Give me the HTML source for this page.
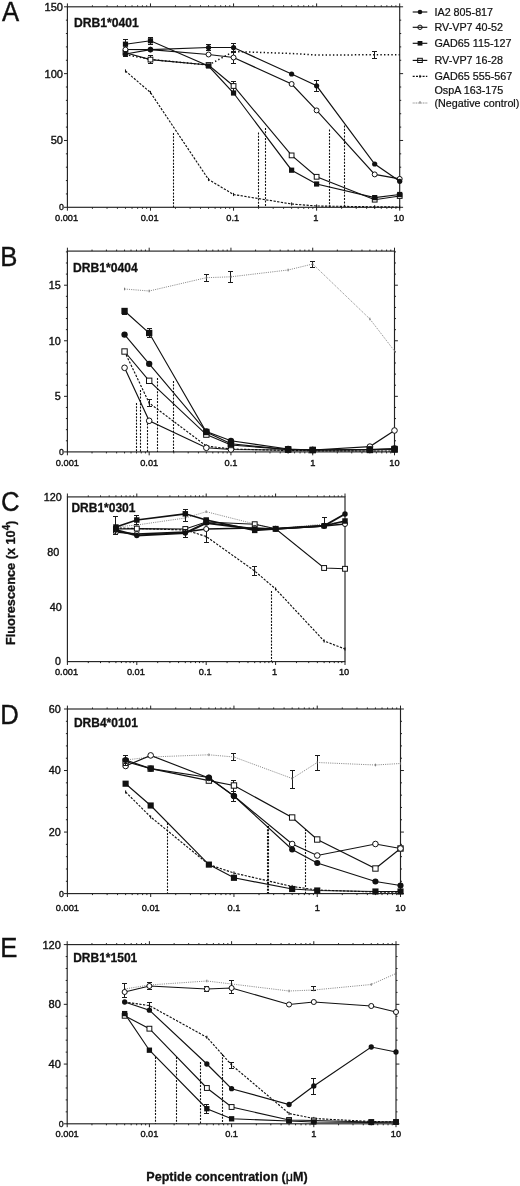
<!DOCTYPE html>
<html><head><meta charset="utf-8"><title>Figure</title>
<style>
html,body{margin:0;padding:0;background:#fff}
svg{display:block}
text{font-family:"Liberation Sans", Arial, Helvetica, sans-serif;fill:#111}
.tk{stroke:#111;stroke-width:0.38px}
.lt{font-size:27.2px;stroke:#111;stroke-width:0.4px}
.ti{font-weight:bold;stroke:#111;stroke-width:0.3px}
.lg{font-size:10.75px;stroke:#111;stroke-width:0.22px}
.ax{font-weight:bold;stroke:#111;stroke-width:0.3px}
</style></head><body>
<svg width="520" height="1186" viewBox="0 0 520 1186">
<rect width="520" height="1186" fill="#fff"/>
<rect x="67.4" y="6.8" width="332.3" height="200.5" fill="none" stroke="#222" stroke-width="1.15"/>
<path d="M67.4 207.3v3.4M67.4 6.8v-3.4M92.41 207.3v1.5M92.41 6.8v-1.5M107.04 207.3v1.5M107.04 6.8v-1.5M117.42 207.3v1.5M117.42 6.8v-1.5M125.47 207.3v1.5M125.47 6.8v-1.5M132.04 207.3v1.5M132.04 6.8v-1.5M137.61 207.3v1.5M137.61 6.8v-1.5M142.42 207.3v1.5M142.42 6.8v-1.5M146.67 207.3v1.5M146.67 6.8v-1.5M150.47 207.3v3.4M150.47 6.8v-3.4M175.48 207.3v1.5M175.48 6.8v-1.5M190.11 207.3v1.5M190.11 6.8v-1.5M200.49 207.3v1.5M200.49 6.8v-1.5M208.54 207.3v1.5M208.54 6.8v-1.5M215.12 207.3v1.5M215.12 6.8v-1.5M220.68 207.3v1.5M220.68 6.8v-1.5M225.5 207.3v1.5M225.5 6.8v-1.5M229.75 207.3v1.5M229.75 6.8v-1.5M233.55 207.3v3.4M233.55 6.8v-3.4M258.56 207.3v1.5M258.56 6.8v-1.5M273.19 207.3v1.5M273.19 6.8v-1.5M283.57 207.3v1.5M283.57 6.8v-1.5M291.62 207.3v1.5M291.62 6.8v-1.5M298.19 207.3v1.5M298.19 6.8v-1.5M303.76 207.3v1.5M303.76 6.8v-1.5M308.57 207.3v1.5M308.57 6.8v-1.5M312.82 207.3v1.5M312.82 6.8v-1.5M316.62 207.3v3.4M316.62 6.8v-3.4M341.63 207.3v1.5M341.63 6.8v-1.5M356.26 207.3v1.5M356.26 6.8v-1.5M366.64 207.3v1.5M366.64 6.8v-1.5M374.69 207.3v1.5M374.69 6.8v-1.5M381.27 207.3v1.5M381.27 6.8v-1.5M386.83 207.3v1.5M386.83 6.8v-1.5M391.65 207.3v1.5M391.65 6.8v-1.5M395.9 207.3v1.5M395.9 6.8v-1.5M399.7 207.3v3.4M399.7 6.8v-3.4M67.4 207.3h-3.4M399.7 207.3h3.4M67.4 193.93h-1.5M399.7 193.93h1.5M67.4 180.57h-1.5M399.7 180.57h1.5M67.4 167.2h-1.5M399.7 167.2h1.5M67.4 153.83h-1.5M399.7 153.83h1.5M67.4 140.47h-3.4M399.7 140.47h3.4M67.4 127.1h-1.5M399.7 127.1h1.5M67.4 113.73h-1.5M399.7 113.73h1.5M67.4 100.37h-1.5M399.7 100.37h1.5M67.4 87h-1.5M399.7 87h1.5M67.4 73.63h-3.4M399.7 73.63h3.4M67.4 60.27h-1.5M399.7 60.27h1.5M67.4 46.9h-1.5M399.7 46.9h1.5M67.4 33.53h-1.5M399.7 33.53h1.5M67.4 20.17h-1.5M399.7 20.17h1.5M67.4 6.8h-3.4M399.7 6.8h3.4" stroke="#222" stroke-width="1" fill="none"/>
<text x="63" y="10.77" text-anchor="end" class="tk" font-size="11.1">150</text>
<text x="63" y="77.61" text-anchor="end" class="tk" font-size="11.1">100</text>
<text x="63" y="144.44" text-anchor="end" class="tk" font-size="11.1">50</text>
<text x="63.8" y="210.45" text-anchor="end" class="tk" font-size="8.8">0</text>
<text x="66.6" y="220.5" text-anchor="middle" class="tk" font-size="9.25">0.001</text>
<text x="149.67" y="220.5" text-anchor="middle" class="tk" font-size="9.25">0.01</text>
<text x="232.75" y="220.5" text-anchor="middle" class="tk" font-size="9.25">0.1</text>
<text x="315.82" y="220.5" text-anchor="middle" class="tk" font-size="9.25">1</text>
<text x="398.9" y="220.5" text-anchor="middle" class="tk" font-size="9.25">10</text>
<text transform="translate(1.9 20.6) scale(0.945 1)" class="lt">A</text>
<text x="73.9" y="27" class="ti" font-size="12.15">DRB1*0401</text>
<path d="M173.5 133V207.3M258.5 132.5V207.3M265.5 128V207.3M329.5 129.6V207.3M344.5 125.5V207.3" fill="none" stroke="#111" stroke-width="1.1" stroke-dasharray="2 1.3"/>
<path d="M125.47 54.5L150.47 59.5L208.54 65L233.55 51.5L291.62 53.5L316.62 55L374.69 54.8L399.7 54.8" fill="none" stroke="#111" stroke-width="1.5" stroke-dasharray="1.4 2.25"/>
<path d="M374.5 51.5V58.5M372 51.5h5M372 58.5h5" fill="none" stroke="#1a1a1a" stroke-width="1"/>
<path d="M125.47 71L150.47 92.5L208.54 179.5L233.55 194.5L291.62 204L316.62 206L374.69 206.8L399.7 207" fill="none" stroke="#111" stroke-width="1.15" stroke-dasharray="2.3 1.4"/>
<path d="M125.47 69.4v3.2" stroke="#111" stroke-width="1"/>
<path d="M150.47 90.9v3.2" stroke="#111" stroke-width="1"/>
<path d="M208.54 177.9v3.2" stroke="#111" stroke-width="1"/>
<path d="M233.55 192.9v3.2" stroke="#111" stroke-width="1"/>
<path d="M291.62 202.4v3.2" stroke="#111" stroke-width="1"/>
<path d="M316.62 204.4v3.2" stroke="#111" stroke-width="1"/>
<path d="M374.69 205.2v3.2" stroke="#111" stroke-width="1"/>
<path d="M399.7 205.4v3.2" stroke="#111" stroke-width="1"/>
<path d="M125.47 52.7L150.47 59.6L208.54 65L233.55 86L291.62 155.4L316.62 176.8L374.69 199.7L399.7 196" fill="none" stroke="#111" stroke-width="1.15"/>
<path d="M150.5 55.5V63.5M148 55.5h5M148 63.5h5M233.5 81.5V91.5M231 81.5h5M231 91.5h5" fill="none" stroke="#1a1a1a" stroke-width="1"/>
<rect x="123.09" y="50.32" width="4.75" height="4.75" fill="#fff" stroke="#111" stroke-width="1"/>
<rect x="148.1" y="57.22" width="4.75" height="4.75" fill="#fff" stroke="#111" stroke-width="1"/>
<rect x="206.17" y="62.62" width="4.75" height="4.75" fill="#fff" stroke="#111" stroke-width="1"/>
<rect x="231.17" y="83.62" width="4.75" height="4.75" fill="#fff" stroke="#111" stroke-width="1"/>
<rect x="289.24" y="153.02" width="4.75" height="4.75" fill="#fff" stroke="#111" stroke-width="1"/>
<rect x="314.25" y="174.42" width="4.75" height="4.75" fill="#fff" stroke="#111" stroke-width="1"/>
<rect x="372.32" y="197.32" width="4.75" height="4.75" fill="#fff" stroke="#111" stroke-width="1"/>
<rect x="397.32" y="193.62" width="4.75" height="4.75" fill="#fff" stroke="#111" stroke-width="1"/>
<path d="M125.47 44.2L150.47 40.8L208.54 66L233.55 93L291.62 170.2L316.62 184L374.69 197.6L399.7 194.5" fill="none" stroke="#111" stroke-width="1.15"/>
<path d="M125.5 39.5V49.5M123 39.5h5M123 49.5h5M150.5 37.5V44.5M148 37.5h5M148 44.5h5" fill="none" stroke="#1a1a1a" stroke-width="1"/>
<rect x="122.87" y="41.6" width="5.2" height="5.2" fill="#111"/>
<rect x="147.88" y="38.2" width="5.2" height="5.2" fill="#111"/>
<rect x="205.94" y="63.4" width="5.2" height="5.2" fill="#111"/>
<rect x="230.95" y="90.4" width="5.2" height="5.2" fill="#111"/>
<rect x="289.02" y="167.6" width="5.2" height="5.2" fill="#111"/>
<rect x="314.02" y="181.4" width="5.2" height="5.2" fill="#111"/>
<rect x="372.09" y="195" width="5.2" height="5.2" fill="#111"/>
<rect x="397.1" y="191.9" width="5.2" height="5.2" fill="#111"/>
<path d="M125.47 49.5L150.47 49.6L208.54 54.5L233.55 57.5L291.62 84L316.62 110.4L374.69 174.4L399.7 178.9" fill="none" stroke="#111" stroke-width="1.15"/>
<path d="M233.5 52.5V63.5M231 52.5h5M231 63.5h5" fill="none" stroke="#1a1a1a" stroke-width="1"/>
<circle cx="125.47" cy="49.5" r="2.48" fill="#fff" stroke="#111" stroke-width="1"/>
<circle cx="150.47" cy="49.6" r="2.48" fill="#fff" stroke="#111" stroke-width="1"/>
<circle cx="208.54" cy="54.5" r="2.48" fill="#fff" stroke="#111" stroke-width="1"/>
<circle cx="233.55" cy="57.5" r="2.48" fill="#fff" stroke="#111" stroke-width="1"/>
<circle cx="291.62" cy="84" r="2.48" fill="#fff" stroke="#111" stroke-width="1"/>
<circle cx="316.62" cy="110.4" r="2.48" fill="#fff" stroke="#111" stroke-width="1"/>
<circle cx="374.69" cy="174.4" r="2.48" fill="#fff" stroke="#111" stroke-width="1"/>
<circle cx="399.7" cy="178.9" r="2.48" fill="#fff" stroke="#111" stroke-width="1"/>
<path d="M125.47 54L150.47 49.6L208.54 47.5L233.55 47.5L291.62 74L316.62 85.8L374.69 164L399.7 181.3" fill="none" stroke="#111" stroke-width="1.15"/>
<path d="M125.5 51.5V56.5M123 51.5h5M123 56.5h5M208.5 44.5V50.5M206 44.5h5M206 50.5h5M233.5 43.5V51.5M231 43.5h5M231 51.5h5M316.5 80.5V91.5M314 80.5h5M314 91.5h5" fill="none" stroke="#1a1a1a" stroke-width="1"/>
<circle cx="125.47" cy="54" r="2.6" fill="#111"/>
<circle cx="150.47" cy="49.6" r="2.6" fill="#111"/>
<circle cx="208.54" cy="47.5" r="2.6" fill="#111"/>
<circle cx="233.55" cy="47.5" r="2.6" fill="#111"/>
<circle cx="291.62" cy="74" r="2.6" fill="#111"/>
<circle cx="316.62" cy="85.8" r="2.6" fill="#111"/>
<circle cx="374.69" cy="164" r="2.6" fill="#111"/>
<circle cx="399.7" cy="181.3" r="2.6" fill="#111"/>
<rect x="67.4" y="251.1" width="327.1" height="200.8" fill="none" stroke="#222" stroke-width="1.15"/>
<path d="M67.4 451.9v3.4M67.4 251.1v-3.4M92.02 451.9v1.5M92.02 251.1v-1.5M106.42 451.9v1.5M106.42 251.1v-1.5M116.63 451.9v1.5M116.63 251.1v-1.5M124.56 451.9v1.5M124.56 251.1v-1.5M131.03 451.9v1.5M131.03 251.1v-1.5M136.51 451.9v1.5M136.51 251.1v-1.5M141.25 451.9v1.5M141.25 251.1v-1.5M145.43 451.9v1.5M145.43 251.1v-1.5M149.18 451.9v3.4M149.18 251.1v-3.4M173.79 451.9v1.5M173.79 251.1v-1.5M188.19 451.9v1.5M188.19 251.1v-1.5M198.41 451.9v1.5M198.41 251.1v-1.5M206.33 451.9v1.5M206.33 251.1v-1.5M212.81 451.9v1.5M212.81 251.1v-1.5M218.28 451.9v1.5M218.28 251.1v-1.5M223.03 451.9v1.5M223.03 251.1v-1.5M227.21 451.9v1.5M227.21 251.1v-1.5M230.95 451.9v3.4M230.95 251.1v-3.4M255.57 451.9v1.5M255.57 251.1v-1.5M269.97 451.9v1.5M269.97 251.1v-1.5M280.18 451.9v1.5M280.18 251.1v-1.5M288.11 451.9v1.5M288.11 251.1v-1.5M294.58 451.9v1.5M294.58 251.1v-1.5M300.06 451.9v1.5M300.06 251.1v-1.5M304.8 451.9v1.5M304.8 251.1v-1.5M308.98 451.9v1.5M308.98 251.1v-1.5M312.73 451.9v3.4M312.73 251.1v-3.4M337.34 451.9v1.5M337.34 251.1v-1.5M351.74 451.9v1.5M351.74 251.1v-1.5M361.96 451.9v1.5M361.96 251.1v-1.5M369.88 451.9v1.5M369.88 251.1v-1.5M376.36 451.9v1.5M376.36 251.1v-1.5M381.83 451.9v1.5M381.83 251.1v-1.5M386.58 451.9v1.5M386.58 251.1v-1.5M390.76 451.9v1.5M390.76 251.1v-1.5M394.5 451.9v3.4M394.5 251.1v-3.4M67.4 451.9h-3.4M394.5 451.9h3.4M67.4 440.79h-1.5M394.5 440.79h1.5M67.4 429.68h-1.5M394.5 429.68h1.5M67.4 418.56h-1.5M394.5 418.56h1.5M67.4 407.45h-1.5M394.5 407.45h1.5M67.4 396.34h-3.4M394.5 396.34h3.4M67.4 385.23h-1.5M394.5 385.23h1.5M67.4 374.11h-1.5M394.5 374.11h1.5M67.4 363h-1.5M394.5 363h1.5M67.4 351.89h-1.5M394.5 351.89h1.5M67.4 340.78h-3.4M394.5 340.78h3.4M67.4 329.66h-1.5M394.5 329.66h1.5M67.4 318.55h-1.5M394.5 318.55h1.5M67.4 307.44h-1.5M394.5 307.44h1.5M67.4 296.33h-1.5M394.5 296.33h1.5M67.4 285.21h-3.4M394.5 285.21h3.4M67.4 274.1h-1.5M394.5 274.1h1.5M67.4 262.99h-1.5M394.5 262.99h1.5M67.4 251.88h-1.5M394.5 251.88h1.5" stroke="#222" stroke-width="1" fill="none"/>
<text x="60.7" y="289.08" text-anchor="end" class="tk" font-size="10.8">15</text>
<text x="60.7" y="344.64" text-anchor="end" class="tk" font-size="10.8">10</text>
<text x="60.7" y="400.2" text-anchor="end" class="tk" font-size="10.8">5</text>
<text x="63.8" y="455.05" text-anchor="end" class="tk" font-size="8.8">0</text>
<text x="67.4" y="466.3" text-anchor="middle" class="tk" font-size="9.25">0.001</text>
<text x="149.18" y="466.3" text-anchor="middle" class="tk" font-size="9.25">0.01</text>
<text x="230.95" y="466.3" text-anchor="middle" class="tk" font-size="9.25">0.1</text>
<text x="312.73" y="466.3" text-anchor="middle" class="tk" font-size="9.25">1</text>
<text x="394.5" y="466.3" text-anchor="middle" class="tk" font-size="9.25">10</text>
<text transform="translate(0.2 265.8) scale(0.945 1)" class="lt">B</text>
<text x="73" y="271.5" class="ti" font-size="12.15">DRB1*0404</text>
<path d="M136.5 403V451.9M140.5 390V451.9M147.5 420V451.9M157.5 378V451.9M173.5 381V451.9" fill="none" stroke="#111" stroke-width="1.1" stroke-dasharray="2 1.3"/>
<path d="M124.56 289L149.18 291L206.33 277.7L230.95 276.8L288.11 270L312.73 264L369.88 319L394.5 351" fill="none" stroke="#8c8c8c" stroke-width="1" stroke-dasharray="1.1 1.1"/>
<path d="M206.5 274.5V281.5M204 274.5h5M204 281.5h5M230.5 271.5V282.5M228 271.5h5M228 282.5h5M312.5 261.5V267.5M310 261.5h5M310 267.5h5" fill="none" stroke="#1a1a1a" stroke-width="1"/>
<path d="M124.56 287.7v2.6" stroke="#666" stroke-width="0.9"/>
<path d="M149.18 289.7v2.6" stroke="#666" stroke-width="0.9"/>
<path d="M206.33 276.4v2.6" stroke="#666" stroke-width="0.9"/>
<path d="M230.95 275.5v2.6" stroke="#666" stroke-width="0.9"/>
<path d="M288.11 268.7v2.6" stroke="#666" stroke-width="0.9"/>
<path d="M312.73 262.7v2.6" stroke="#666" stroke-width="0.9"/>
<path d="M369.88 317.7v2.6" stroke="#666" stroke-width="0.9"/>
<path d="M394.5 349.7v2.6" stroke="#666" stroke-width="0.9"/>
<path d="M124.56 351.5L149.18 403L206.33 446L230.95 449L288.11 450.5L312.73 450.8L369.88 451L394.5 451" fill="none" stroke="#111" stroke-width="1.15" stroke-dasharray="2.3 1.4"/>
<path d="M149.5 399.5V406.5M147 399.5h5M147 406.5h5" fill="none" stroke="#1a1a1a" stroke-width="1"/>
<path d="M124.56 349.9v3.2" stroke="#111" stroke-width="1"/>
<path d="M149.18 401.4v3.2" stroke="#111" stroke-width="1"/>
<path d="M206.33 444.4v3.2" stroke="#111" stroke-width="1"/>
<path d="M230.95 447.4v3.2" stroke="#111" stroke-width="1"/>
<path d="M288.11 448.9v3.2" stroke="#111" stroke-width="1"/>
<path d="M312.73 449.2v3.2" stroke="#111" stroke-width="1"/>
<path d="M369.88 449.4v3.2" stroke="#111" stroke-width="1"/>
<path d="M394.5 449.4v3.2" stroke="#111" stroke-width="1"/>
<path d="M124.56 367.8L149.18 420.8L206.33 447.8L230.95 449.5L288.11 450L312.73 450L369.88 446.6L394.5 430.5" fill="none" stroke="#111" stroke-width="1.15"/>
<circle cx="124.56" cy="367.8" r="2.81" fill="#fff" stroke="#111" stroke-width="1"/>
<circle cx="149.18" cy="420.8" r="2.81" fill="#fff" stroke="#111" stroke-width="1"/>
<circle cx="206.33" cy="447.8" r="2.81" fill="#fff" stroke="#111" stroke-width="1"/>
<circle cx="230.95" cy="449.5" r="2.81" fill="#fff" stroke="#111" stroke-width="1"/>
<circle cx="288.11" cy="450" r="2.81" fill="#fff" stroke="#111" stroke-width="1"/>
<circle cx="312.73" cy="450" r="2.81" fill="#fff" stroke="#111" stroke-width="1"/>
<circle cx="369.88" cy="446.6" r="2.81" fill="#fff" stroke="#111" stroke-width="1"/>
<circle cx="394.5" cy="430.5" r="2.81" fill="#fff" stroke="#111" stroke-width="1"/>
<path d="M124.56 351.5L149.18 380.8L206.33 434.6L230.95 445L288.11 449.5L312.73 450L369.88 449.5L394.5 449" fill="none" stroke="#111" stroke-width="1.15"/>
<rect x="121.87" y="348.82" width="5.37" height="5.37" fill="#fff" stroke="#111" stroke-width="1"/>
<rect x="146.49" y="378.12" width="5.37" height="5.37" fill="#fff" stroke="#111" stroke-width="1"/>
<rect x="203.65" y="431.92" width="5.37" height="5.37" fill="#fff" stroke="#111" stroke-width="1"/>
<rect x="228.27" y="442.32" width="5.37" height="5.37" fill="#fff" stroke="#111" stroke-width="1"/>
<rect x="285.42" y="446.82" width="5.37" height="5.37" fill="#fff" stroke="#111" stroke-width="1"/>
<rect x="310.04" y="447.32" width="5.37" height="5.37" fill="#fff" stroke="#111" stroke-width="1"/>
<rect x="367.2" y="446.82" width="5.37" height="5.37" fill="#fff" stroke="#111" stroke-width="1"/>
<rect x="391.82" y="446.32" width="5.37" height="5.37" fill="#fff" stroke="#111" stroke-width="1"/>
<path d="M124.56 334.6L149.18 363.8L206.33 431.5L230.95 440.8L288.11 449L312.73 450L369.88 449.5L394.5 448.5" fill="none" stroke="#111" stroke-width="1.15"/>
<circle cx="124.56" cy="334.6" r="3.17" fill="#111"/>
<circle cx="149.18" cy="363.8" r="3.17" fill="#111"/>
<circle cx="206.33" cy="431.5" r="3.17" fill="#111"/>
<circle cx="230.95" cy="440.8" r="3.17" fill="#111"/>
<circle cx="288.11" cy="449" r="3.17" fill="#111"/>
<circle cx="312.73" cy="450" r="3.17" fill="#111"/>
<circle cx="369.88" cy="449.5" r="3.17" fill="#111"/>
<circle cx="394.5" cy="448.5" r="3.17" fill="#111"/>
<path d="M124.56 311L149.18 333L206.33 432L230.95 443.8L288.11 449.5L312.73 450L369.88 450L394.5 449.5" fill="none" stroke="#111" stroke-width="1.15"/>
<path d="M124.5 308.5V314.5M122 308.5h5M122 314.5h5M149.5 328.5V337.5M147 328.5h5M147 337.5h5" fill="none" stroke="#1a1a1a" stroke-width="1"/>
<rect x="121.39" y="307.83" width="6.34" height="6.34" fill="#111"/>
<rect x="146" y="329.83" width="6.34" height="6.34" fill="#111"/>
<rect x="203.16" y="428.83" width="6.34" height="6.34" fill="#111"/>
<rect x="227.78" y="440.63" width="6.34" height="6.34" fill="#111"/>
<rect x="284.94" y="446.33" width="6.34" height="6.34" fill="#111"/>
<rect x="309.55" y="446.83" width="6.34" height="6.34" fill="#111"/>
<rect x="366.71" y="446.83" width="6.34" height="6.34" fill="#111"/>
<rect x="391.33" y="446.33" width="6.34" height="6.34" fill="#111"/>
<rect x="67.4" y="496.9" width="277.6" height="164.7" fill="none" stroke="#222" stroke-width="1.15"/>
<path d="M67.4 661.6v3.4M67.4 496.9v-3.4M88.29 661.6v1.5M88.29 496.9v-1.5M100.51 661.6v1.5M100.51 496.9v-1.5M109.18 661.6v1.5M109.18 496.9v-1.5M115.91 661.6v1.5M115.91 496.9v-1.5M121.4 661.6v1.5M121.4 496.9v-1.5M126.05 661.6v1.5M126.05 496.9v-1.5M130.07 661.6v1.5M130.07 496.9v-1.5M133.62 661.6v1.5M133.62 496.9v-1.5M136.8 661.6v3.4M136.8 496.9v-3.4M157.69 661.6v1.5M157.69 496.9v-1.5M169.91 661.6v1.5M169.91 496.9v-1.5M178.58 661.6v1.5M178.58 496.9v-1.5M185.31 661.6v1.5M185.31 496.9v-1.5M190.8 661.6v1.5M190.8 496.9v-1.5M195.45 661.6v1.5M195.45 496.9v-1.5M199.47 661.6v1.5M199.47 496.9v-1.5M203.02 661.6v1.5M203.02 496.9v-1.5M206.2 661.6v3.4M206.2 496.9v-3.4M227.09 661.6v1.5M227.09 496.9v-1.5M239.31 661.6v1.5M239.31 496.9v-1.5M247.98 661.6v1.5M247.98 496.9v-1.5M254.71 661.6v1.5M254.71 496.9v-1.5M260.2 661.6v1.5M260.2 496.9v-1.5M264.85 661.6v1.5M264.85 496.9v-1.5M268.87 661.6v1.5M268.87 496.9v-1.5M272.42 661.6v1.5M272.42 496.9v-1.5M275.6 661.6v3.4M275.6 496.9v-3.4M296.49 661.6v1.5M296.49 496.9v-1.5M308.71 661.6v1.5M308.71 496.9v-1.5M317.38 661.6v1.5M317.38 496.9v-1.5M324.11 661.6v1.5M324.11 496.9v-1.5M329.6 661.6v1.5M329.6 496.9v-1.5M334.25 661.6v1.5M334.25 496.9v-1.5M338.27 661.6v1.5M338.27 496.9v-1.5M341.82 661.6v1.5M341.82 496.9v-1.5M345 661.6v3.4M345 496.9v-3.4" stroke="#222" stroke-width="1" fill="none"/>
<text x="61.8" y="500.77" text-anchor="end" class="tk" font-size="10.8">120</text>
<text x="59.2" y="555.67" text-anchor="end" class="tk" font-size="10.8">80</text>
<text x="61.8" y="610.57" text-anchor="end" class="tk" font-size="10.8">40</text>
<text x="60.9" y="665.39" text-anchor="end" class="tk" font-size="10.6">0</text>
<text x="66.5" y="675.1" text-anchor="middle" class="tk" font-size="9.25">0.001</text>
<text x="135.9" y="675.1" text-anchor="middle" class="tk" font-size="9.25">0.01</text>
<text x="205.3" y="675.1" text-anchor="middle" class="tk" font-size="9.25">0.1</text>
<text x="274.7" y="675.1" text-anchor="middle" class="tk" font-size="9.25">1</text>
<text x="344.1" y="675.1" text-anchor="middle" class="tk" font-size="9.25">10</text>
<text transform="translate(0.9 510.9) scale(0.945 1)" class="lt">C</text>
<text x="71.4" y="512.4" class="ti" font-size="12">DRB1*0301</text>
<path d="M271.5 591V661.6" fill="none" stroke="#111" stroke-width="1.1" stroke-dasharray="2 1.3"/>
<path d="M115.91 527L136.8 525L185.31 518L206.2 511.7L254.71 524L275.6 528.8L324.11 524L345 522" fill="none" stroke="#8c8c8c" stroke-width="1" stroke-dasharray="1.1 1.1"/>
<path d="M115.91 525.7v2.6" stroke="#666" stroke-width="0.9"/>
<path d="M136.8 523.7v2.6" stroke="#666" stroke-width="0.9"/>
<path d="M185.31 516.7v2.6" stroke="#666" stroke-width="0.9"/>
<path d="M206.2 510.4v2.6" stroke="#666" stroke-width="0.9"/>
<path d="M254.71 522.7v2.6" stroke="#666" stroke-width="0.9"/>
<path d="M275.6 527.5v2.6" stroke="#666" stroke-width="0.9"/>
<path d="M324.11 522.7v2.6" stroke="#666" stroke-width="0.9"/>
<path d="M345 520.7v2.6" stroke="#666" stroke-width="0.9"/>
<path d="M115.91 528L136.8 528.5L185.31 530L206.2 536.5L254.71 571L275.6 589L324.11 641L345 649" fill="none" stroke="#111" stroke-width="1.15" stroke-dasharray="2.3 1.4"/>
<path d="M206.5 530.5V542.5M204 530.5h5M204 542.5h5M254.5 566.5V575.5M252 566.5h5M252 575.5h5" fill="none" stroke="#1a1a1a" stroke-width="1"/>
<path d="M115.91 526.4v3.2" stroke="#111" stroke-width="1"/>
<path d="M136.8 526.9v3.2" stroke="#111" stroke-width="1"/>
<path d="M185.31 528.4v3.2" stroke="#111" stroke-width="1"/>
<path d="M206.2 534.9v3.2" stroke="#111" stroke-width="1"/>
<path d="M254.71 569.4v3.2" stroke="#111" stroke-width="1"/>
<path d="M275.6 587.4v3.2" stroke="#111" stroke-width="1"/>
<path d="M324.11 639.4v3.2" stroke="#111" stroke-width="1"/>
<path d="M345 647.4v3.2" stroke="#111" stroke-width="1"/>
<path d="M115.91 529L136.8 528.6L185.31 529L206.2 522L254.71 524.2L275.6 528.8L324.11 568L345 568.8" fill="none" stroke="#111" stroke-width="1.15"/>
<rect x="113.49" y="526.58" width="4.84" height="4.84" fill="#fff" stroke="#111" stroke-width="1"/>
<rect x="134.38" y="526.18" width="4.84" height="4.84" fill="#fff" stroke="#111" stroke-width="1"/>
<rect x="182.89" y="526.58" width="4.84" height="4.84" fill="#fff" stroke="#111" stroke-width="1"/>
<rect x="203.78" y="519.58" width="4.84" height="4.84" fill="#fff" stroke="#111" stroke-width="1"/>
<rect x="252.29" y="521.78" width="4.84" height="4.84" fill="#fff" stroke="#111" stroke-width="1"/>
<rect x="273.18" y="526.38" width="4.84" height="4.84" fill="#fff" stroke="#111" stroke-width="1"/>
<rect x="321.69" y="565.58" width="4.84" height="4.84" fill="#fff" stroke="#111" stroke-width="1"/>
<rect x="342.58" y="566.38" width="4.84" height="4.84" fill="#fff" stroke="#111" stroke-width="1"/>
<path d="M115.91 532L136.8 534L185.31 532L206.2 529L254.71 528L275.6 528.8L324.11 526L345 524" fill="none" stroke="#111" stroke-width="1.3"/>
<circle cx="115.91" cy="532" r="2.53" fill="#fff" stroke="#111" stroke-width="1"/>
<circle cx="136.8" cy="534" r="2.53" fill="#fff" stroke="#111" stroke-width="1"/>
<circle cx="185.31" cy="532" r="2.53" fill="#fff" stroke="#111" stroke-width="1"/>
<circle cx="206.2" cy="529" r="2.53" fill="#fff" stroke="#111" stroke-width="1"/>
<circle cx="254.71" cy="528" r="2.53" fill="#fff" stroke="#111" stroke-width="1"/>
<circle cx="275.6" cy="528.8" r="2.53" fill="#fff" stroke="#111" stroke-width="1"/>
<circle cx="324.11" cy="526" r="2.53" fill="#fff" stroke="#111" stroke-width="1"/>
<circle cx="345" cy="524" r="2.53" fill="#fff" stroke="#111" stroke-width="1"/>
<path d="M115.91 530L136.8 535.4L185.31 533L206.2 523L254.71 529L275.6 528.8L324.11 525.8L345 514" fill="none" stroke="#111" stroke-width="2"/>
<path d="M185.5 529.5V537.5M183 529.5h5M183 537.5h5M324.5 517.5V526.5M322 517.5h5M322 526.5h5" fill="none" stroke="#1a1a1a" stroke-width="1"/>
<circle cx="115.91" cy="530" r="2.73" fill="#111"/>
<circle cx="136.8" cy="535.4" r="2.73" fill="#111"/>
<circle cx="185.31" cy="533" r="2.73" fill="#111"/>
<circle cx="206.2" cy="523" r="2.73" fill="#111"/>
<circle cx="254.71" cy="529" r="2.73" fill="#111"/>
<circle cx="275.6" cy="528.8" r="2.73" fill="#111"/>
<circle cx="324.11" cy="525.8" r="2.73" fill="#111"/>
<circle cx="345" cy="514" r="2.73" fill="#111"/>
<path d="M115.91 527L136.8 520L185.31 513.8L206.2 520L254.71 530.4L275.6 528.8L324.11 525.8L345 521" fill="none" stroke="#111" stroke-width="1.7"/>
<path d="M115.5 516.5V534.5M113 516.5h5M113 534.5h5M136.5 515.5V524.5M134 515.5h5M134 524.5h5M185.5 509.5V521.5M183 509.5h5M183 521.5h5" fill="none" stroke="#1a1a1a" stroke-width="1"/>
<rect x="113.18" y="524.27" width="5.46" height="5.46" fill="#111"/>
<rect x="134.07" y="517.27" width="5.46" height="5.46" fill="#111"/>
<rect x="182.58" y="511.07" width="5.46" height="5.46" fill="#111"/>
<rect x="203.47" y="517.27" width="5.46" height="5.46" fill="#111"/>
<rect x="251.98" y="527.67" width="5.46" height="5.46" fill="#111"/>
<rect x="272.87" y="526.07" width="5.46" height="5.46" fill="#111"/>
<rect x="321.38" y="523.07" width="5.46" height="5.46" fill="#111"/>
<rect x="342.27" y="518.27" width="5.46" height="5.46" fill="#111"/>
<rect x="67.4" y="709" width="333.1" height="184.6" fill="none" stroke="#222" stroke-width="1.15"/>
<path d="M67.4 893.6v3.4M67.4 709v-3.4M92.47 893.6v1.5M92.47 709v-1.5M107.13 893.6v1.5M107.13 709v-1.5M117.54 893.6v1.5M117.54 709v-1.5M125.61 893.6v1.5M125.61 709v-1.5M132.2 893.6v1.5M132.2 709v-1.5M137.78 893.6v1.5M137.78 709v-1.5M142.6 893.6v1.5M142.6 709v-1.5M146.86 893.6v1.5M146.86 709v-1.5M150.68 893.6v3.4M150.68 709v-3.4M175.74 893.6v1.5M175.74 709v-1.5M190.41 893.6v1.5M190.41 709v-1.5M200.81 893.6v1.5M200.81 709v-1.5M208.88 893.6v1.5M208.88 709v-1.5M215.48 893.6v1.5M215.48 709v-1.5M221.05 893.6v1.5M221.05 709v-1.5M225.88 893.6v1.5M225.88 709v-1.5M230.14 893.6v1.5M230.14 709v-1.5M233.95 893.6v3.4M233.95 709v-3.4M259.02 893.6v1.5M259.02 709v-1.5M273.68 893.6v1.5M273.68 709v-1.5M284.09 893.6v1.5M284.09 709v-1.5M292.16 893.6v1.5M292.16 709v-1.5M298.75 893.6v1.5M298.75 709v-1.5M304.33 893.6v1.5M304.33 709v-1.5M309.15 893.6v1.5M309.15 709v-1.5M313.41 893.6v1.5M313.41 709v-1.5M317.23 893.6v3.4M317.23 709v-3.4M342.29 893.6v1.5M342.29 709v-1.5M356.96 893.6v1.5M356.96 709v-1.5M367.36 893.6v1.5M367.36 709v-1.5M375.43 893.6v1.5M375.43 709v-1.5M382.03 893.6v1.5M382.03 709v-1.5M387.6 893.6v1.5M387.6 709v-1.5M392.43 893.6v1.5M392.43 709v-1.5M396.69 893.6v1.5M396.69 709v-1.5M400.5 893.6v3.4M400.5 709v-3.4M67.4 893.6h-3.4M400.5 893.6h3.4M67.4 881.29h-1.5M400.5 881.29h1.5M67.4 868.99h-1.5M400.5 868.99h1.5M67.4 856.68h-1.5M400.5 856.68h1.5M67.4 844.37h-1.5M400.5 844.37h1.5M67.4 832.07h-3.4M400.5 832.07h3.4M67.4 819.76h-1.5M400.5 819.76h1.5M67.4 807.45h-1.5M400.5 807.45h1.5M67.4 795.15h-1.5M400.5 795.15h1.5M67.4 782.84h-1.5M400.5 782.84h1.5M67.4 770.53h-3.4M400.5 770.53h3.4M67.4 758.23h-1.5M400.5 758.23h1.5M67.4 745.92h-1.5M400.5 745.92h1.5M67.4 733.61h-1.5M400.5 733.61h1.5M67.4 721.31h-1.5M400.5 721.31h1.5M67.4 709h-3.4M400.5 709h3.4" stroke="#222" stroke-width="1" fill="none"/>
<text x="60.8" y="712.87" text-anchor="end" class="tk" font-size="10.8">60</text>
<text x="60.8" y="774.4" text-anchor="end" class="tk" font-size="10.8">40</text>
<text x="60.8" y="835.93" text-anchor="end" class="tk" font-size="10.8">20</text>
<text x="63.8" y="896.75" text-anchor="end" class="tk" font-size="8.8">0</text>
<text x="67.4" y="911.2" text-anchor="middle" class="tk" font-size="9.25">0.001</text>
<text x="150.68" y="911.2" text-anchor="middle" class="tk" font-size="9.25">0.01</text>
<text x="233.95" y="911.2" text-anchor="middle" class="tk" font-size="9.25">0.1</text>
<text x="317.23" y="911.2" text-anchor="middle" class="tk" font-size="9.25">1</text>
<text x="400.5" y="911.2" text-anchor="middle" class="tk" font-size="9.25">10</text>
<text transform="translate(0.2 723.5) scale(0.945 1)" class="lt">D</text>
<text x="73.9" y="727" class="ti" font-size="12">DRB4*0101</text>
<path d="M167.5 823V893.6M267.5 826V893.6M268.5 826V893.6M305.5 829V893.6" fill="none" stroke="#111" stroke-width="1.1" stroke-dasharray="2 1.3"/>
<path d="M125.61 760L150.68 757L208.88 754.8L233.95 757L292.16 778.5L317.23 762.5L375.43 765L400.5 763.5" fill="none" stroke="#8c8c8c" stroke-width="1" stroke-dasharray="1.1 1.1"/>
<path d="M233.5 753.5V760.5M231 753.5h5M231 760.5h5M292.5 770.5V788.5M290 770.5h5M290 788.5h5M317.5 755.5V770.5M315 755.5h5M315 770.5h5" fill="none" stroke="#1a1a1a" stroke-width="1"/>
<path d="M125.61 758.7v2.6" stroke="#666" stroke-width="0.9"/>
<path d="M150.68 755.7v2.6" stroke="#666" stroke-width="0.9"/>
<path d="M208.88 753.5v2.6" stroke="#666" stroke-width="0.9"/>
<path d="M233.95 755.7v2.6" stroke="#666" stroke-width="0.9"/>
<path d="M292.16 777.2v2.6" stroke="#666" stroke-width="0.9"/>
<path d="M317.23 761.2v2.6" stroke="#666" stroke-width="0.9"/>
<path d="M375.43 763.7v2.6" stroke="#666" stroke-width="0.9"/>
<path d="M400.5 762.2v2.6" stroke="#666" stroke-width="0.9"/>
<path d="M125.61 792L150.68 817L208.88 864.6L233.95 873L292.16 886.5L317.23 890L375.43 892L400.5 892.3" fill="none" stroke="#111" stroke-width="1.15" stroke-dasharray="2.3 1.4"/>
<path d="M125.61 790.4v3.2" stroke="#111" stroke-width="1"/>
<path d="M150.68 815.4v3.2" stroke="#111" stroke-width="1"/>
<path d="M208.88 863v3.2" stroke="#111" stroke-width="1"/>
<path d="M233.95 871.4v3.2" stroke="#111" stroke-width="1"/>
<path d="M292.16 884.9v3.2" stroke="#111" stroke-width="1"/>
<path d="M317.23 888.4v3.2" stroke="#111" stroke-width="1"/>
<path d="M375.43 890.4v3.2" stroke="#111" stroke-width="1"/>
<path d="M400.5 890.7v3.2" stroke="#111" stroke-width="1"/>
<path d="M125.61 783.7L150.68 805.5L208.88 864.6L233.95 877.8L292.16 889L317.23 890.5L375.43 891.5L400.5 891.5" fill="none" stroke="#111" stroke-width="1.15"/>
<rect x="122.54" y="780.63" width="6.14" height="6.14" fill="#111"/>
<rect x="147.61" y="802.43" width="6.14" height="6.14" fill="#111"/>
<rect x="205.81" y="861.53" width="6.14" height="6.14" fill="#111"/>
<rect x="230.88" y="874.73" width="6.14" height="6.14" fill="#111"/>
<rect x="289.09" y="885.93" width="6.14" height="6.14" fill="#111"/>
<rect x="314.16" y="887.43" width="6.14" height="6.14" fill="#111"/>
<rect x="372.36" y="888.43" width="6.14" height="6.14" fill="#111"/>
<rect x="397.43" y="888.43" width="6.14" height="6.14" fill="#111"/>
<path d="M125.61 761.5L150.68 768.6L208.88 780.6L233.95 785.5L292.16 817.5L317.23 839.5L375.43 868.5L400.5 848.5" fill="none" stroke="#111" stroke-width="1.15"/>
<path d="M233.5 780.5V791.5M231 780.5h5M231 791.5h5" fill="none" stroke="#1a1a1a" stroke-width="1"/>
<rect x="122.92" y="758.82" width="5.37" height="5.37" fill="#fff" stroke="#111" stroke-width="1"/>
<rect x="147.99" y="765.92" width="5.37" height="5.37" fill="#fff" stroke="#111" stroke-width="1"/>
<rect x="206.2" y="777.92" width="5.37" height="5.37" fill="#fff" stroke="#111" stroke-width="1"/>
<rect x="231.27" y="782.82" width="5.37" height="5.37" fill="#fff" stroke="#111" stroke-width="1"/>
<rect x="289.47" y="814.82" width="5.37" height="5.37" fill="#fff" stroke="#111" stroke-width="1"/>
<rect x="314.54" y="836.82" width="5.37" height="5.37" fill="#fff" stroke="#111" stroke-width="1"/>
<rect x="372.75" y="865.82" width="5.37" height="5.37" fill="#fff" stroke="#111" stroke-width="1"/>
<rect x="397.82" y="845.82" width="5.37" height="5.37" fill="#fff" stroke="#111" stroke-width="1"/>
<path d="M125.61 766L150.68 755.4L208.88 778L233.95 796L292.16 844L317.23 855.5L375.43 844L400.5 848.5" fill="none" stroke="#111" stroke-width="1.15"/>
<circle cx="125.61" cy="766" r="2.81" fill="#fff" stroke="#111" stroke-width="1"/>
<circle cx="150.68" cy="755.4" r="2.81" fill="#fff" stroke="#111" stroke-width="1"/>
<circle cx="208.88" cy="778" r="2.81" fill="#fff" stroke="#111" stroke-width="1"/>
<circle cx="233.95" cy="796" r="2.81" fill="#fff" stroke="#111" stroke-width="1"/>
<circle cx="292.16" cy="844" r="2.81" fill="#fff" stroke="#111" stroke-width="1"/>
<circle cx="317.23" cy="855.5" r="2.81" fill="#fff" stroke="#111" stroke-width="1"/>
<circle cx="375.43" cy="844" r="2.81" fill="#fff" stroke="#111" stroke-width="1"/>
<circle cx="400.5" cy="848.5" r="2.81" fill="#fff" stroke="#111" stroke-width="1"/>
<path d="M125.61 760L150.68 768.6L208.88 777.5L233.95 796L292.16 849.5L317.23 863L375.43 881.5L400.5 885.5" fill="none" stroke="#111" stroke-width="1.15"/>
<path d="M125.5 755.5V765.5M123 755.5h5M123 765.5h5M233.5 791.5V801.5M231 791.5h5M231 801.5h5" fill="none" stroke="#1a1a1a" stroke-width="1"/>
<circle cx="125.61" cy="760" r="3.07" fill="#111"/>
<circle cx="150.68" cy="768.6" r="3.07" fill="#111"/>
<circle cx="208.88" cy="777.5" r="3.07" fill="#111"/>
<circle cx="233.95" cy="796" r="3.07" fill="#111"/>
<circle cx="292.16" cy="849.5" r="3.07" fill="#111"/>
<circle cx="317.23" cy="863" r="3.07" fill="#111"/>
<circle cx="375.43" cy="881.5" r="3.07" fill="#111"/>
<circle cx="400.5" cy="885.5" r="3.07" fill="#111"/>
<rect x="67.2" y="944.6" width="328.8" height="179.2" fill="none" stroke="#222" stroke-width="1.15"/>
<path d="M67.2 1123.8v3.4M67.2 944.6v-3.4M91.94 1123.8v1.5M91.94 944.6v-1.5M106.42 1123.8v1.5M106.42 944.6v-1.5M116.69 1123.8v1.5M116.69 944.6v-1.5M124.66 1123.8v1.5M124.66 944.6v-1.5M131.16 1123.8v1.5M131.16 944.6v-1.5M136.67 1123.8v1.5M136.67 944.6v-1.5M141.43 1123.8v1.5M141.43 944.6v-1.5M145.64 1123.8v1.5M145.64 944.6v-1.5M149.4 1123.8v3.4M149.4 944.6v-3.4M174.14 1123.8v1.5M174.14 944.6v-1.5M188.62 1123.8v1.5M188.62 944.6v-1.5M198.89 1123.8v1.5M198.89 944.6v-1.5M206.86 1123.8v1.5M206.86 944.6v-1.5M213.36 1123.8v1.5M213.36 944.6v-1.5M218.87 1123.8v1.5M218.87 944.6v-1.5M223.63 1123.8v1.5M223.63 944.6v-1.5M227.84 1123.8v1.5M227.84 944.6v-1.5M231.6 1123.8v3.4M231.6 944.6v-3.4M256.34 1123.8v1.5M256.34 944.6v-1.5M270.82 1123.8v1.5M270.82 944.6v-1.5M281.09 1123.8v1.5M281.09 944.6v-1.5M289.06 1123.8v1.5M289.06 944.6v-1.5M295.56 1123.8v1.5M295.56 944.6v-1.5M301.07 1123.8v1.5M301.07 944.6v-1.5M305.83 1123.8v1.5M305.83 944.6v-1.5M310.04 1123.8v1.5M310.04 944.6v-1.5M313.8 1123.8v3.4M313.8 944.6v-3.4M338.54 1123.8v1.5M338.54 944.6v-1.5M353.02 1123.8v1.5M353.02 944.6v-1.5M363.29 1123.8v1.5M363.29 944.6v-1.5M371.26 1123.8v1.5M371.26 944.6v-1.5M377.76 1123.8v1.5M377.76 944.6v-1.5M383.27 1123.8v1.5M383.27 944.6v-1.5M388.03 1123.8v1.5M388.03 944.6v-1.5M392.24 1123.8v1.5M392.24 944.6v-1.5M396 1123.8v3.4M396 944.6v-3.4M67.2 1123.8h-3.4M396 1123.8h3.4M67.2 1111.85h-1.5M396 1111.85h1.5M67.2 1099.91h-1.5M396 1099.91h1.5M67.2 1087.96h-1.5M396 1087.96h1.5M67.2 1076.01h-1.5M396 1076.01h1.5M67.2 1064.07h-3.4M396 1064.07h3.4M67.2 1052.12h-1.5M396 1052.12h1.5M67.2 1040.17h-1.5M396 1040.17h1.5M67.2 1028.23h-1.5M396 1028.23h1.5M67.2 1016.28h-1.5M396 1016.28h1.5M67.2 1004.33h-3.4M396 1004.33h3.4M67.2 992.39h-1.5M396 992.39h1.5M67.2 980.44h-1.5M396 980.44h1.5M67.2 968.49h-1.5M396 968.49h1.5M67.2 956.55h-1.5M396 956.55h1.5M67.2 944.6h-3.4M396 944.6h3.4" stroke="#222" stroke-width="1" fill="none"/>
<text x="60.9" y="948.57" text-anchor="end" class="tk" font-size="11.1">120</text>
<text x="60.9" y="1008.31" text-anchor="end" class="tk" font-size="11.1">80</text>
<text x="60.9" y="1068.04" text-anchor="end" class="tk" font-size="11.1">40</text>
<text x="63.6" y="1126.95" text-anchor="end" class="tk" font-size="8.8">0</text>
<text x="67.2" y="1137.3" text-anchor="middle" class="tk" font-size="9.25">0.001</text>
<text x="149.4" y="1137.3" text-anchor="middle" class="tk" font-size="9.25">0.01</text>
<text x="231.6" y="1137.3" text-anchor="middle" class="tk" font-size="9.25">0.1</text>
<text x="313.8" y="1137.3" text-anchor="middle" class="tk" font-size="9.25">1</text>
<text x="396" y="1137.3" text-anchor="middle" class="tk" font-size="9.25">10</text>
<text transform="translate(0.2 956.5) scale(0.945 1)" class="lt">E</text>
<text x="73.2" y="961.5" class="ti" font-size="12">DRB1*1501</text>
<path d="M155.5 1057V1123.8M176.5 1057V1123.8M200.5 1062V1123.8M222.5 1054V1123.8" fill="none" stroke="#111" stroke-width="1.1" stroke-dasharray="2 1.3"/>
<path d="M124.66 989L149.4 985L206.86 981L231.6 984L289.06 991L313.8 990L371.26 984.5L396 973.5" fill="none" stroke="#8c8c8c" stroke-width="1" stroke-dasharray="1.1 1.1"/>
<path d="M313.5 986.5V990.5M311 986.5h5M311 990.5h5" fill="none" stroke="#1a1a1a" stroke-width="1"/>
<path d="M124.66 987.7v2.6" stroke="#666" stroke-width="0.9"/>
<path d="M149.4 983.7v2.6" stroke="#666" stroke-width="0.9"/>
<path d="M206.86 979.7v2.6" stroke="#666" stroke-width="0.9"/>
<path d="M231.6 982.7v2.6" stroke="#666" stroke-width="0.9"/>
<path d="M289.06 989.7v2.6" stroke="#666" stroke-width="0.9"/>
<path d="M313.8 988.7v2.6" stroke="#666" stroke-width="0.9"/>
<path d="M371.26 983.2v2.6" stroke="#666" stroke-width="0.9"/>
<path d="M396 972.2v2.6" stroke="#666" stroke-width="0.9"/>
<path d="M124.66 1002L149.4 1005.6L206.86 1037.3L231.6 1065L289.06 1113.5L313.8 1118.5L371.26 1121.5L396 1122" fill="none" stroke="#111" stroke-width="1.15" stroke-dasharray="2.3 1.4"/>
<path d="M149.5 1002.5V1009.5M147 1002.5h5M147 1009.5h5M231.5 1062.5V1068.5M229 1062.5h5M229 1068.5h5" fill="none" stroke="#1a1a1a" stroke-width="1"/>
<path d="M124.66 1000.4v3.2" stroke="#111" stroke-width="1"/>
<path d="M149.4 1004v3.2" stroke="#111" stroke-width="1"/>
<path d="M206.86 1035.7v3.2" stroke="#111" stroke-width="1"/>
<path d="M231.6 1063.4v3.2" stroke="#111" stroke-width="1"/>
<path d="M289.06 1111.9v3.2" stroke="#111" stroke-width="1"/>
<path d="M313.8 1116.9v3.2" stroke="#111" stroke-width="1"/>
<path d="M371.26 1119.9v3.2" stroke="#111" stroke-width="1"/>
<path d="M396 1120.4v3.2" stroke="#111" stroke-width="1"/>
<path d="M124.66 1015.8L149.4 1028.7L206.86 1088L231.6 1107L289.06 1120L313.8 1120.5L371.26 1122L396 1122" fill="none" stroke="#111" stroke-width="1.15"/>
<rect x="122.24" y="1013.38" width="4.84" height="4.84" fill="#fff" stroke="#111" stroke-width="1"/>
<rect x="146.98" y="1026.28" width="4.84" height="4.84" fill="#fff" stroke="#111" stroke-width="1"/>
<rect x="204.44" y="1085.58" width="4.84" height="4.84" fill="#fff" stroke="#111" stroke-width="1"/>
<rect x="229.18" y="1104.58" width="4.84" height="4.84" fill="#fff" stroke="#111" stroke-width="1"/>
<rect x="286.64" y="1117.58" width="4.84" height="4.84" fill="#fff" stroke="#111" stroke-width="1"/>
<rect x="311.38" y="1118.08" width="4.84" height="4.84" fill="#fff" stroke="#111" stroke-width="1"/>
<rect x="368.84" y="1119.58" width="4.84" height="4.84" fill="#fff" stroke="#111" stroke-width="1"/>
<rect x="393.58" y="1119.58" width="4.84" height="4.84" fill="#fff" stroke="#111" stroke-width="1"/>
<path d="M124.66 1013.6L149.4 1050.2L206.86 1108.7L231.6 1118.8L289.06 1121L313.8 1122L371.26 1122.5L396 1122" fill="none" stroke="#111" stroke-width="1.15"/>
<path d="M206.5 1104.5V1113.5M204 1104.5h5M204 1113.5h5" fill="none" stroke="#1a1a1a" stroke-width="1"/>
<rect x="122" y="1010.95" width="5.3" height="5.3" fill="#111"/>
<rect x="146.75" y="1047.55" width="5.3" height="5.3" fill="#111"/>
<rect x="204.2" y="1106.05" width="5.3" height="5.3" fill="#111"/>
<rect x="228.95" y="1116.15" width="5.3" height="5.3" fill="#111"/>
<rect x="286.4" y="1118.35" width="5.3" height="5.3" fill="#111"/>
<rect x="311.15" y="1119.35" width="5.3" height="5.3" fill="#111"/>
<rect x="368.6" y="1119.85" width="5.3" height="5.3" fill="#111"/>
<rect x="393.35" y="1119.35" width="5.3" height="5.3" fill="#111"/>
<path d="M124.66 992L149.4 986L206.86 989L231.6 988L289.06 1004.5L313.8 1002L371.26 1006L396 1012" fill="none" stroke="#111" stroke-width="1.15"/>
<path d="M124.5 983.5V997.5M122 983.5h5M122 997.5h5M149.5 982.5V989.5M147 982.5h5M147 989.5h5M206.5 986.5V991.5M204 986.5h5M204 991.5h5M231.5 980.5V993.5M229 980.5h5M229 993.5h5" fill="none" stroke="#1a1a1a" stroke-width="1"/>
<circle cx="124.66" cy="992" r="2.53" fill="#fff" stroke="#111" stroke-width="1"/>
<circle cx="149.4" cy="986" r="2.53" fill="#fff" stroke="#111" stroke-width="1"/>
<circle cx="206.86" cy="989" r="2.53" fill="#fff" stroke="#111" stroke-width="1"/>
<circle cx="231.6" cy="988" r="2.53" fill="#fff" stroke="#111" stroke-width="1"/>
<circle cx="289.06" cy="1004.5" r="2.53" fill="#fff" stroke="#111" stroke-width="1"/>
<circle cx="313.8" cy="1002" r="2.53" fill="#fff" stroke="#111" stroke-width="1"/>
<circle cx="371.26" cy="1006" r="2.53" fill="#fff" stroke="#111" stroke-width="1"/>
<circle cx="396" cy="1012" r="2.53" fill="#fff" stroke="#111" stroke-width="1"/>
<path d="M124.66 1002L149.4 1010.2L206.86 1064L231.6 1088.7L289.06 1104.5L313.8 1086L371.26 1047L396 1052" fill="none" stroke="#111" stroke-width="1.15"/>
<path d="M313.5 1078.5V1094.5M311 1078.5h5M311 1094.5h5" fill="none" stroke="#1a1a1a" stroke-width="1"/>
<circle cx="124.66" cy="1002" r="2.65" fill="#111"/>
<circle cx="149.4" cy="1010.2" r="2.65" fill="#111"/>
<circle cx="206.86" cy="1064" r="2.65" fill="#111"/>
<circle cx="231.6" cy="1088.7" r="2.65" fill="#111"/>
<circle cx="289.06" cy="1104.5" r="2.65" fill="#111"/>
<circle cx="313.8" cy="1086" r="2.65" fill="#111"/>
<circle cx="371.26" cy="1047" r="2.65" fill="#111"/>
<circle cx="396" cy="1052" r="2.65" fill="#111"/>
<path d="M412.7 12H427.3" stroke="#111" stroke-width="1.15"/>
<circle cx="420" cy="12" r="2.3" fill="#111"/>
<text x="434.5" y="15.7" class="lg">IA2 805-817</text>
<circle cx="420" cy="27.3" r="2.2" fill="#fff" stroke="#111" stroke-width="1"/>
<path d="M412.7 27.3H427.3" stroke="#111" stroke-width="1.15"/>
<text x="434.5" y="31.0" class="lg">RV-VP7 40-52</text>
<path d="M412.7 43.3H427.3" stroke="#111" stroke-width="1.15"/>
<rect x="417.6" y="41.0" width="4.8" height="4.6" fill="#111"/>
<text x="434.5" y="47.0" class="lg">GAD65 115-127</text>
<rect x="417.7" y="58.3" width="4.6" height="4.2" fill="#fff" stroke="#111" stroke-width="1"/>
<path d="M412.7 60.4H427.3" stroke="#111" stroke-width="1.15"/>
<text x="434.5" y="64.1" class="lg">RV-VP7 16-28</text>
<path d="M412.7 76.4H427.3" stroke="#111" stroke-width="1.1" stroke-dasharray="2 1.3"/><path d="M420 74.9v3" stroke="#111" stroke-width="1"/>
<text x="434.5" y="80.10000000000001" class="lg">GAD65 555-567</text>
<text x="434.5" y="93.60000000000001" class="lg">OspA 163-175</text>
<path d="M412.7 103H427.3" stroke="#888" stroke-width="1" stroke-dasharray="1 0.7"/><path d="M420 101.2v2.4" stroke="#555" stroke-width="0.9"/>
<text x="434.5" y="106.7" class="lg">(Negative control)</text>
<text transform="translate(14.9 582.9) rotate(-90) scale(0.96 1)" text-anchor="middle" class="ax" font-size="13.3">Fluorescence (x 10<tspan dy="-4.6" font-size="10">4</tspan><tspan dy="4.6">)</tspan></text>
<text x="227" y="1181.4" text-anchor="middle" class="ax" font-size="12.55">Peptide concentration (<tspan font-weight="normal">μ</tspan>M)</text>
</svg>
</body></html>
